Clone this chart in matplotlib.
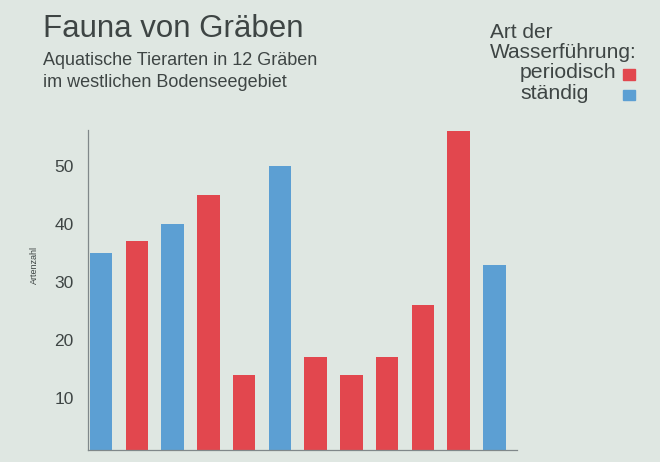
import matplotlib
matplotlib.use("Agg")
import matplotlib.pyplot as plt
from matplotlib.patches import Rectangle

# Artenzahl je Graben (12 Gräben), Art der Wasserführung
graeben = list(range(12))
artenzahl = [35, 37, 40, 45, 14, 50, 17, 14, 17, 26, 56, 33]
wasser = ["ständig", "periodisch", "ständig", "periodisch", "periodisch", "ständig",
          "periodisch", "periodisch", "periodisch", "periodisch", "periodisch", "ständig"]
yticks = [10, 20, 30, 40, 50]

farben = {"periodisch": "#e2474e", "ständig": "#5c9fd3"}
bg = "#dfe7e2"
txt = "#3e4544"

plt.rcParams['font.family'] = ['Liberation Sans', 'DejaVu Sans']

fig = plt.figure(figsize=(6.6, 4.62), dpi=100)
fig.patch.set_facecolor(bg)
ax = fig.add_axes([0.1329, 0.0249, 0.65, 0.6937])
ax.set_facecolor(bg)

ax.bar(graeben, artenzahl, width=0.63, color=[farben[w] for w in wasser])

ax.set_xlim(-0.372, 11.62)
ax.set_ylim(0.95, 56.2)
ax.set_xticks([])
ax.set_yticks(yticks)
ax.tick_params(axis='y', length=0, pad=10, labelsize=12.5, labelcolor=txt)
for s in ['top', 'right']:
    ax.spines[s].set_visible(False)
for s in ['left', 'bottom']:
    ax.spines[s].set_color('#80888a')
    ax.spines[s].set_linewidth(0.9)
ax.set_ylabel("Artenzahl", fontsize=6.5, color=txt)
ax.yaxis.set_label_coords(-0.114, 0.58)

# Titel
fig.text(43 / 660, 1 - 36.7 / 462, "Fauna von Gräben", fontsize=22.5, color=txt, va='baseline')
fig.text(43 / 660, 1 - 65 / 462, "Aquatische Tierarten in 12 Gräben", fontsize=13,
         color=txt, va='baseline')
fig.text(43 / 660, 1 - 86.7 / 462, "im westlichen Bodenseegebiet", fontsize=13,
         color=txt, va='baseline')

# Legende
fig.text(490 / 660, 1 - 38.3 / 462, "Art der", fontsize=15, color=txt, va='baseline')
fig.text(490 / 660, 1 - 58.5 / 462, "Wasserführung:", fontsize=15, color=txt, va='baseline')
for i, name in enumerate(["periodisch", "ständig"]):
    yb = 78.5 + 20.8 * i
    fig.text(520 / 660, 1 - yb / 462, name, fontsize=15.3, color=txt, va='baseline')
    fig.patches.append(Rectangle((623 / 660, 1 - (yb + 1) / 462), 12 / 660, 10.5 / 462,
                                 transform=fig.transFigure, color=farben[name]))

fig.savefig("out.png", dpi=100, facecolor=bg)
